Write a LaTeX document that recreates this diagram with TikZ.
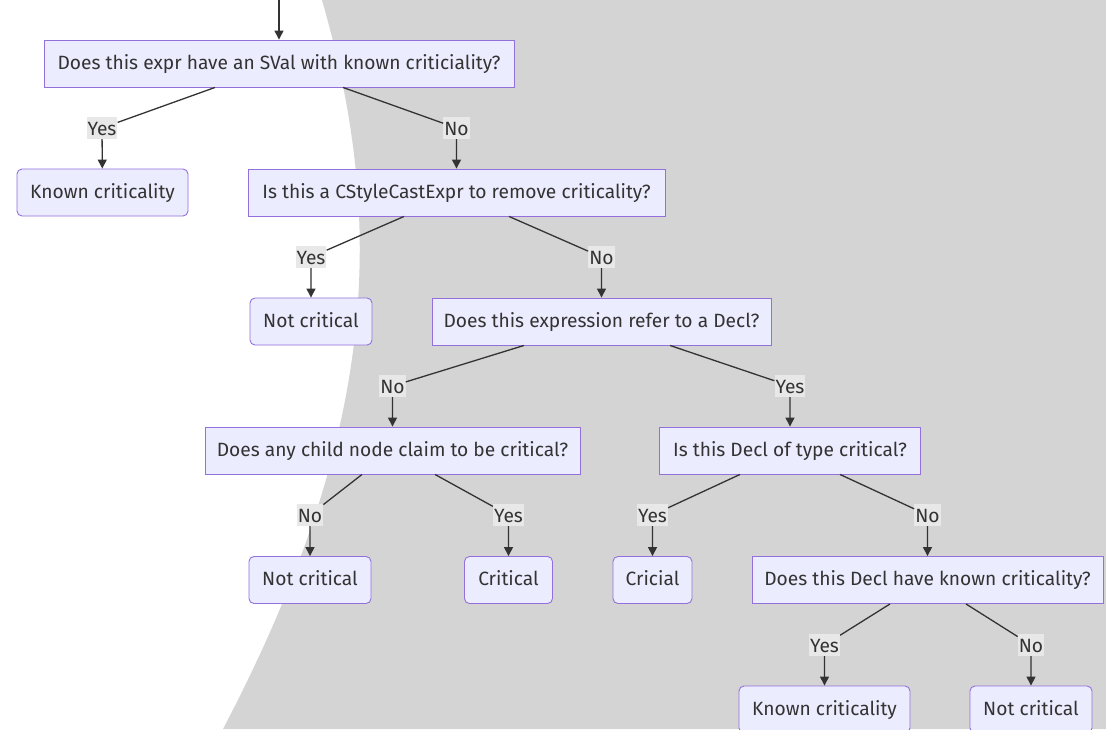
\documentclass[tikz,border=0pt]{standalone}
\usepackage{fontspec}
\setmainfont{Fira Sans}
\usepackage{tikz}
\usetikzlibrary{arrows.meta,calc}

\definecolor{boxfill}{HTML}{ECECFF}
\definecolor{boxline}{HTML}{9370DB}
\definecolor{ink}{HTML}{333333}
\definecolor{lblfill}{HTML}{E8E8E8}
\definecolor{backgray}{HTML}{D4D4D4}

\tikzset{
  decision/.style={draw=boxline,fill=boxfill,line width=0.9pt,text=ink,minimum height=47pt,inner sep=0pt,text height=15pt,text depth=4pt},
  outcome/.style={decision,rounded corners=5pt},
  edgelabel/.style={fill=lblfill,text=ink,inner sep=1pt,minimum height=22pt,text height=15pt,text depth=1pt},
  flow/.style={draw=ink,line width=1.3pt,-{Triangle[length=9pt,width=9pt]}}
}

\begin{document}
\begin{tikzpicture}[x=1pt,y=-1pt,font=\fontsize{19.2}{22}\selectfont]
		\clip (0,0) rectangle (1106,729);
		% Background
		\fill[white] (0,0) rectangle (1106,729);
		\fill[backgray] (322,0) .. controls (385,220) and (380,430) .. (223,729) -- (1106,729) -- (1106,0) -- cycle;

		% First question
		\coordinate (entry) at (279,0);
		\node[decision,minimum width=470pt] (svalq) at (279,63.5) {Does this expr have an SVal with known criticiality?};
		\draw[flow] (entry) -- (svalq);
		\node[outcome,minimum width=171pt] (known1) at (102.5,192.5) {Known criticality};
		\node[decision,minimum width=417pt] (castq) at (456.5,192.5) {Is this a CStyleCastExpr to remove criticality?};
		\node[edgelabel] (svalyes) at (102,128) {Yes};
		\node[edgelabel] (svalno) at (456.5,128) {No};
		\draw[flow] ([xshift=-64]svalq.south) -- (svalyes) -- (known1);
		\draw[flow] ([xshift=64]svalq.south) -- (svalno) -- (castq);

		% Cast expression
		\node[outcome,minimum width=122pt] (notcrit1) at (311,321.5) {Not critical};
		\node[decision,minimum width=339pt] (declq) at (601.5,321.5) {Does this expression refer to a Decl?};
		\node[edgelabel] (castyes) at (311,257) {Yes};
		\node[edgelabel] (castno) at (601.5,257) {No};
		\draw[flow] ([xshift=-52.5]castq.south) -- (castyes) -- (notcrit1);
		\draw[flow] ([xshift=52.5]castq.south) -- (castno) -- (declq);

		% Decl reference
		\node[decision,minimum width=375pt] (childq) at (392.5,450.5) {Does any child node claim to be critical?};
		\node[decision,minimum width=261pt] (typeq) at (790,450.5) {Is this Decl of type critical?};
		\node[edgelabel] (declno) at (392.5,386) {No};
		\node[edgelabel] (declyes) at (790,386) {Yes};
		\draw[flow] ([xshift=-77.5]declq.south) -- (declno) -- (childq);
		\draw[flow] ([xshift=68.5]declq.south) -- (declyes) -- (typeq);

		% Child nodes
		\node[outcome,minimum width=122pt] (notcrit2) at (310,580) {Not critical};
		\node[outcome,minimum width=88pt] (crit1) at (508.5,580) {Critical};
		\node[edgelabel] (childno) at (310,515) {No};
		\node[edgelabel] (childyes) at (508.5,515) {Yes};
		\draw[flow] ([xshift=-30.5]childq.south) -- (childno) -- (notcrit2);
		\draw[flow] ([xshift=42.5]childq.south) -- (childyes) -- (crit1);

		% Decl type
		\node[outcome,minimum width=79pt] (crit2) at (652.5,580) {Cricial};
		\node[decision,minimum width=351pt] (knownq) at (927.5,580) {Does this Decl have known criticality?};
		\node[edgelabel] (typeyes) at (652.5,515) {Yes};
		\node[edgelabel] (typeno) at (927.5,515) {No};
		\draw[flow] ([xshift=-50]typeq.south) -- (typeyes) -- (crit2);
		\draw[flow] ([xshift=50]typeq.south) -- (typeno) -- (knownq);

		% Known criticality
		\node[outcome,minimum width=171pt] (known2) at (824.5,709.5) {Known criticality};
		\node[outcome,minimum width=122pt] (notcrit3) at (1031,709.5) {Not critical};
		\node[edgelabel] (knownyes) at (824.5,645) {Yes};
		\node[edgelabel] (knownno) at (1031,645) {No};
		\draw[flow] ([xshift=-37.5]knownq.south) -- (knownyes) -- (known2);
		\draw[flow] ([xshift=38.5]knownq.south) -- (knownno) -- (notcrit3);
	\end{tikzpicture}
\end{document}
